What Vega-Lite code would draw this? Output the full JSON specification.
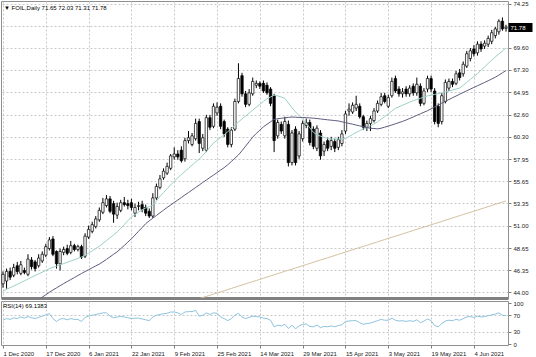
{
"$schema": "https://vega.github.io/schema/vega-lite/v6.json",
"padding": 0,
"background": "white",
"spacing": 0,
"config": {
 "axis": {"labelFont": "Liberation Sans", "labelFontSize": 6, "labelColor": "#202020", "tickColor": "#808080", "gridColor": "#c8c8c8", "gridDash": [2, 2], "domain": false},
 "title": {"font": "Liberation Sans", "fontSize": 6, "fontWeight": "normal", "color": "#000000"}
},
"datasets": {"p": [
{"d":"2020-12-01","o":44.9,"h":46.2,"l":44.5,"c":45.9,"a":44.15,"r":58},
{"d":"2020-12-02","o":45.2,"h":46.5,"l":44.4,"c":46.2,"a":44.33,"r":62},
{"d":"2020-12-03","o":46.2,"h":46.6,"l":45.3,"c":45.6,"a":44.5,"r":60},
{"d":"2020-12-04","o":45.8,"h":47.0,"l":45.6,"c":46.6,"a":44.67,"r":64},
{"d":"2020-12-07","o":46.8,"h":47.2,"l":45.9,"c":46.2,"a":44.84,"r":62},
{"d":"2020-12-08","o":46.0,"h":47.3,"l":45.8,"c":46.9,"a":45.03,"r":66},
{"d":"2020-12-09","o":46.3,"h":46.6,"l":45.9,"c":46.1,"a":45.22,"r":63},
{"d":"2020-12-10","o":45.9,"h":48.0,"l":45.7,"c":47.5,"a":45.4,"r":67},
{"d":"2020-12-11","o":47.4,"h":47.7,"l":46.4,"c":46.7,"a":45.59,"r":64},
{"d":"2020-12-14","o":47.2,"h":47.4,"l":46.2,"c":46.5,"a":45.77,"r":62},
{"d":"2020-12-15","o":46.8,"h":48.0,"l":46.6,"c":47.6,"a":45.95,"b":43.25,"r":65},
{"d":"2020-12-16","o":47.3,"h":48.3,"l":47.1,"c":48.0,"a":46.12,"b":43.51,"r":68},
{"d":"2020-12-17","o":47.9,"h":49.1,"l":47.7,"c":48.8,"a":46.3,"b":43.76,"r":71},
{"d":"2020-12-18","o":48.6,"h":49.8,"l":48.4,"c":49.5,"a":46.48,"b":44.02,"r":74},
{"d":"2020-12-21","o":49.6,"h":49.9,"l":47.8,"c":48.0,"a":46.63,"b":44.26,"r":62},
{"d":"2020-12-22","o":48.3,"h":48.4,"l":46.5,"c":47.0,"a":46.76,"b":44.48,"r":55},
{"d":"2020-12-23","o":47.0,"h":48.6,"l":46.3,"c":48.3,"a":46.9,"b":44.71,"r":61},
{"d":"2020-12-24","o":48.2,"h":48.8,"l":47.9,"c":48.5,"a":47.02,"b":44.93,"r":62},
{"d":"2020-12-28","o":48.6,"h":49.0,"l":47.9,"c":48.1,"a":47.16,"b":45.14,"r":59},
{"d":"2020-12-29","o":48.2,"h":49.4,"l":48.0,"c":48.9,"a":47.29,"b":45.35,"r":62},
{"d":"2020-12-30","o":48.9,"h":49.1,"l":48.3,"c":48.5,"a":47.43,"b":45.56,"r":60},
{"d":"2020-12-31","o":48.5,"h":49.0,"l":48.3,"c":48.8,"a":47.57,"b":45.78,"r":60},
{"d":"2021-01-04","o":48.8,"h":49.0,"l":47.5,"c":47.7,"a":47.71,"b":45.98,"r":55},
{"d":"2021-01-05","o":47.8,"h":50.2,"l":47.6,"c":49.9,"a":47.88,"b":46.19,"r":65},
{"d":"2021-01-06","o":49.8,"h":51.0,"l":49.6,"c":50.6,"a":48.12,"b":46.38,"r":68},
{"d":"2021-01-07","o":50.4,"h":51.4,"l":50.2,"c":51.1,"a":48.36,"b":46.58,"r":70},
{"d":"2021-01-08","o":50.9,"h":52.0,"l":50.7,"c":51.7,"a":48.6,"b":46.78,"r":72},
{"d":"2021-01-11","o":51.6,"h":52.9,"l":51.4,"c":52.6,"a":48.84,"b":46.97,"r":74},
{"d":"2021-01-12","o":52.4,"h":53.9,"l":52.2,"c":53.4,"a":49.12,"b":47.21,"r":76},
{"d":"2021-01-13","o":53.1,"h":54.2,"l":52.9,"c":53.8,"a":49.42,"b":47.46,"r":76},
{"d":"2021-01-14","o":53.8,"h":54.1,"l":52.3,"c":52.5,"a":49.73,"b":47.73,"r":68},
{"d":"2021-01-15","o":53.3,"h":53.6,"l":51.3,"c":52.2,"a":50.03,"b":48.0,"r":64},
{"d":"2021-01-18","o":52.1,"h":53.4,"l":51.7,"c":53.0,"a":50.34,"b":48.26,"r":66},
{"d":"2021-01-19","o":52.6,"h":53.7,"l":52.4,"c":53.4,"a":50.71,"b":48.58,"r":67},
{"d":"2021-01-20","o":53.4,"h":54.0,"l":53.0,"c":53.2,"a":51.11,"b":48.92,"r":66},
{"d":"2021-01-21","o":53.3,"h":53.7,"l":52.7,"c":53.1,"a":51.52,"b":49.27,"r":64},
{"d":"2021-01-22","o":53.4,"h":53.8,"l":52.6,"c":52.9,"a":51.91,"b":49.62,"r":62},
{"d":"2021-01-25","o":52.3,"h":53.3,"l":51.9,"c":52.9,"a":52.16,"b":50.01,"r":63},
{"d":"2021-01-26","o":53.0,"h":53.5,"l":52.6,"c":53.1,"a":52.41,"b":50.41,"r":63},
{"d":"2021-01-27","o":53.2,"h":53.6,"l":52.4,"c":52.7,"a":52.66,"b":50.8,"r":61},
{"d":"2021-01-28","o":52.9,"h":53.2,"l":52.0,"c":52.3,"a":52.84,"b":51.2,"r":59},
{"d":"2021-01-29","o":52.5,"h":52.8,"l":51.8,"c":52.0,"a":52.99,"b":51.51,"r":57},
{"d":"2021-02-01","o":52.0,"h":54.4,"l":51.8,"c":53.9,"a":53.14,"b":51.78,"r":66},
{"d":"2021-02-02","o":53.9,"h":55.4,"l":53.7,"c":55.1,"a":53.59,"b":52.06,"r":70},
{"d":"2021-02-03","o":55.0,"h":56.3,"l":54.8,"c":55.9,"a":54.06,"b":52.34,"r":72},
{"d":"2021-02-04","o":56.0,"h":57.0,"l":55.8,"c":56.7,"a":54.46,"b":52.62,"r":74},
{"d":"2021-02-05","o":56.5,"h":57.6,"l":56.3,"c":57.2,"a":54.86,"b":52.9,"r":75},
{"d":"2021-02-08","o":57.0,"h":58.5,"l":56.8,"c":58.3,"a":55.25,"b":53.16,"r":78},
{"d":"2021-02-09","o":58.2,"h":59.2,"l":57.9,"c":58.5,"a":55.65,"b":53.42,"r":78},
{"d":"2021-02-10","o":58.5,"h":58.9,"l":57.9,"c":58.2,"a":56.01,"b":53.68,"r":76},
{"d":"2021-02-11","o":58.9,"h":59.3,"l":57.6,"c":57.8,"a":56.34,"b":53.94,"r":72},
{"d":"2021-02-12","o":58.0,"h":60.2,"l":57.7,"c":59.9,"a":56.67,"b":54.21,"r":78},
{"d":"2021-02-15","o":59.9,"h":60.9,"l":59.6,"c":60.2,"a":57.0,"b":54.46,"r":79},
{"d":"2021-02-16","o":59.5,"h":60.7,"l":59.3,"c":60.4,"a":57.33,"b":54.73,"r":79},
{"d":"2021-02-17","o":60.1,"h":62.2,"l":59.9,"c":61.7,"a":57.66,"b":54.99,"r":82},
{"d":"2021-02-18","o":61.9,"h":62.2,"l":58.6,"c":59.6,"a":57.98,"b":55.25,"t":43.35,"r":68},
{"d":"2021-02-19","o":59.1,"h":60.6,"l":58.8,"c":60.2,"a":58.33,"b":55.52,"t":43.47,"r":70},
{"d":"2021-02-22","o":58.9,"h":62.6,"l":58.7,"c":62.3,"a":58.76,"b":55.77,"t":43.59,"r":76},
{"d":"2021-02-23","o":62.3,"h":62.6,"l":61.0,"c":61.3,"a":59.21,"b":56.04,"t":43.71,"r":72},
{"d":"2021-02-24","o":61.4,"h":63.8,"l":61.2,"c":63.5,"a":59.65,"b":56.29,"t":43.83,"r":76},
{"d":"2021-02-25","o":62.8,"h":63.9,"l":62.5,"c":63.4,"a":59.94,"b":56.55,"t":43.95,"r":75},
{"d":"2021-02-26","o":63.5,"h":63.8,"l":61.1,"c":61.4,"a":60.23,"b":56.82,"t":44.06,"r":66},
{"d":"2021-03-01","o":61.9,"h":62.1,"l":60.3,"c":60.6,"a":60.51,"b":57.07,"t":44.18,"r":62},
{"d":"2021-03-02","o":61.1,"h":61.3,"l":59.2,"c":59.5,"a":60.83,"b":57.37,"t":44.3,"r":57},
{"d":"2021-03-03","o":59.5,"h":61.3,"l":59.2,"c":61.0,"a":61.16,"b":57.71,"t":44.42,"r":62},
{"d":"2021-03-04","o":61.1,"h":64.3,"l":60.9,"c":64.0,"a":61.51,"b":58.06,"t":44.54,"r":70},
{"d":"2021-03-05","o":64.0,"h":68.0,"l":63.8,"c":66.4,"a":61.85,"b":58.4,"t":44.66,"r":75},
{"d":"2021-03-08","o":66.7,"h":67.0,"l":64.5,"c":64.8,"a":62.17,"b":58.84,"t":44.78,"r":66},
{"d":"2021-03-09","o":64.8,"h":65.1,"l":63.4,"c":63.7,"a":62.48,"b":59.32,"t":44.9,"r":62},
{"d":"2021-03-10","o":63.7,"h":65.3,"l":63.5,"c":64.9,"a":62.78,"b":59.79,"t":45.02,"r":65},
{"d":"2021-03-11","o":64.8,"h":66.5,"l":64.6,"c":66.1,"a":63.09,"b":60.27,"t":45.14,"r":68},
{"d":"2021-03-12","o":65.7,"h":66.2,"l":65.4,"c":65.9,"a":63.4,"b":60.65,"t":45.25,"r":67},
{"d":"2021-03-14","o":65.9,"h":66.1,"l":65.3,"c":65.6,"a":63.7,"b":61.0,"t":45.37,"r":66},
{"d":"2021-03-15","o":65.9,"h":66.2,"l":64.9,"c":65.1,"a":64.0,"b":61.34,"t":45.49,"r":63},
{"d":"2021-03-16","o":65.7,"h":66.0,"l":64.7,"c":64.9,"a":64.28,"b":61.61,"t":45.61,"r":62},
{"d":"2021-03-17","o":65.3,"h":65.5,"l":63.5,"c":63.8,"a":64.47,"b":61.87,"t":45.73,"r":58},
{"d":"2021-03-18","o":64.6,"h":64.8,"l":58.7,"c":59.9,"a":64.66,"b":62.13,"t":45.85,"r":42},
{"d":"2021-03-19","o":60.4,"h":62.1,"l":60.1,"c":61.8,"a":64.58,"b":62.2,"t":45.97,"r":46},
{"d":"2021-03-21","o":61.6,"h":61.9,"l":60.6,"c":60.9,"a":64.47,"b":62.24,"t":46.09,"r":44},
{"d":"2021-03-22","o":60.4,"h":62.4,"l":60.1,"c":61.9,"a":64.33,"b":62.29,"t":46.21,"r":48},
{"d":"2021-03-23","o":61.6,"h":62.0,"l":57.2,"c":57.6,"a":63.84,"b":62.33,"t":46.33,"r":38},
{"d":"2021-03-24","o":57.6,"h":61.0,"l":57.3,"c":60.7,"a":63.35,"b":62.37,"t":46.44,"r":46},
{"d":"2021-03-25","o":61.1,"h":61.4,"l":57.3,"c":57.6,"a":62.91,"b":62.35,"t":46.56,"r":37},
{"d":"2021-03-26","o":58.3,"h":60.9,"l":58.0,"c":60.6,"a":62.53,"b":62.33,"t":46.68,"r":44},
{"d":"2021-03-29","o":60.1,"h":62.0,"l":59.8,"c":61.7,"a":62.16,"b":62.32,"t":46.8,"r":48},
{"d":"2021-03-30","o":61.5,"h":62.2,"l":61.2,"c":61.8,"a":61.73,"b":62.3,"t":46.92,"r":49},
{"d":"2021-03-31","o":61.8,"h":62.1,"l":59.4,"c":59.7,"a":61.24,"b":62.28,"t":47.04,"r":43},
{"d":"2021-04-01","o":61.1,"h":61.4,"l":59.0,"c":59.3,"a":60.77,"b":62.25,"t":47.16,"r":42},
{"d":"2021-04-05","o":59.1,"h":61.5,"l":58.8,"c":61.2,"a":60.5,"b":62.21,"t":47.28,"r":46},
{"d":"2021-04-06","o":60.7,"h":61.0,"l":57.9,"c":58.3,"a":60.37,"b":62.17,"t":47.4,"r":40},
{"d":"2021-04-07","o":58.8,"h":59.8,"l":58.3,"c":59.5,"a":60.24,"b":62.12,"t":47.52,"r":43},
{"d":"2021-04-08","o":59.9,"h":60.2,"l":58.8,"c":59.1,"a":60.11,"b":62.08,"t":47.63,"r":42},
{"d":"2021-04-09","o":59.3,"h":60.3,"l":58.9,"c":59.9,"a":60.07,"b":62.04,"t":47.75,"r":44},
{"d":"2021-04-12","o":59.8,"h":60.1,"l":58.7,"c":59.1,"a":60.07,"b":62.0,"t":47.87,"r":42},
{"d":"2021-04-13","o":59.2,"h":60.3,"l":58.9,"c":60.0,"a":60.07,"b":61.96,"t":47.99,"r":45},
{"d":"2021-04-14","o":59.6,"h":61.0,"l":59.3,"c":60.6,"a":60.07,"b":61.87,"t":48.11,"r":47},
{"d":"2021-04-15","o":60.9,"h":63.0,"l":60.6,"c":62.7,"a":60.12,"b":61.79,"t":48.23,"r":55},
{"d":"2021-04-16","o":63.0,"h":63.8,"l":62.5,"c":63.2,"a":60.33,"b":61.7,"t":48.35,"r":56},
{"d":"2021-04-19","o":62.9,"h":63.9,"l":62.7,"c":63.6,"a":60.54,"b":61.62,"t":48.47,"r":57},
{"d":"2021-04-20","o":63.3,"h":64.6,"l":63.0,"c":63.7,"a":60.75,"b":61.53,"t":48.59,"r":57},
{"d":"2021-04-21","o":63.5,"h":63.8,"l":62.2,"c":62.4,"a":60.95,"b":61.44,"t":48.71,"r":52},
{"d":"2021-04-22","o":62.4,"h":62.6,"l":61.0,"c":61.3,"a":61.1,"b":61.35,"t":48.82,"r":48},
{"d":"2021-04-23","o":61.3,"h":62.0,"l":60.9,"c":61.7,"a":61.25,"b":61.27,"t":48.94,"r":50},
{"d":"2021-04-26","o":61.7,"h":62.5,"l":60.9,"c":62.2,"a":61.44,"b":61.2,"t":49.06,"r":51},
{"d":"2021-04-27","o":62.0,"h":63.3,"l":61.8,"c":63.0,"a":61.65,"b":61.17,"t":49.18,"r":54},
{"d":"2021-04-28","o":63.0,"h":64.1,"l":62.8,"c":63.8,"a":61.87,"b":61.13,"t":49.3,"r":57},
{"d":"2021-04-29","o":63.7,"h":64.9,"l":63.5,"c":64.5,"a":62.15,"b":61.2,"t":49.42,"r":60},
{"d":"2021-04-30","o":64.6,"h":64.9,"l":63.8,"c":64.0,"a":62.41,"b":61.31,"t":49.54,"r":58},
{"d":"2021-05-03","o":63.5,"h":64.7,"l":63.3,"c":64.4,"a":62.71,"b":61.42,"t":49.66,"r":58},
{"d":"2021-05-04","o":64.6,"h":66.5,"l":64.4,"c":66.1,"a":63.0,"b":61.54,"t":49.78,"r":63},
{"d":"2021-05-05","o":66.4,"h":66.7,"l":64.9,"c":65.1,"a":63.28,"b":61.66,"t":49.9,"r":58},
{"d":"2021-05-06","o":65.3,"h":65.6,"l":64.5,"c":64.8,"a":63.44,"b":61.79,"t":50.01,"r":56},
{"d":"2021-05-07","o":64.8,"h":65.4,"l":64.4,"c":65.0,"a":63.61,"b":61.91,"t":50.13,"r":57},
{"d":"2021-05-10","o":65.3,"h":65.6,"l":64.5,"c":64.8,"a":63.77,"b":62.06,"t":50.25,"r":55},
{"d":"2021-05-11","o":64.8,"h":65.7,"l":64.5,"c":65.4,"a":63.93,"b":62.22,"t":50.37,"r":57},
{"d":"2021-05-12","o":65.6,"h":65.9,"l":64.6,"c":64.9,"a":64.07,"b":62.38,"t":50.49,"r":55},
{"d":"2021-05-13","o":64.9,"h":66.5,"l":64.6,"c":65.8,"a":64.2,"b":62.55,"t":50.61,"r":59},
{"d":"2021-05-14","o":65.6,"h":65.9,"l":63.5,"c":63.8,"a":64.33,"b":62.71,"t":50.73,"r":52},
{"d":"2021-05-17","o":63.8,"h":65.4,"l":63.6,"c":65.1,"a":64.46,"b":62.87,"t":50.85,"r":56},
{"d":"2021-05-18","o":65.3,"h":66.7,"l":65.0,"c":66.4,"a":64.58,"b":63.03,"t":50.97,"r":61},
{"d":"2021-05-19","o":66.4,"h":66.7,"l":65.0,"c":65.3,"a":64.66,"b":63.23,"t":51.09,"r":57},
{"d":"2021-05-20","o":65.1,"h":65.4,"l":61.6,"c":61.9,"a":64.74,"b":63.43,"t":51.2,"r":45},
{"d":"2021-05-21","o":63.5,"h":63.8,"l":61.3,"c":61.7,"a":64.81,"b":63.62,"t":51.32,"r":42},
{"d":"2021-05-24","o":61.9,"h":64.9,"l":61.6,"c":64.6,"a":64.89,"b":63.82,"t":51.44,"r":50},
{"d":"2021-05-25","o":64.0,"h":66.3,"l":63.8,"c":66.0,"a":64.99,"b":64.01,"t":51.56,"r":56},
{"d":"2021-05-26","o":65.4,"h":66.4,"l":65.1,"c":66.1,"a":65.09,"b":64.2,"t":51.68,"r":58},
{"d":"2021-05-27","o":66.1,"h":66.4,"l":65.5,"c":65.8,"a":65.2,"b":64.39,"t":51.8,"r":57},
{"d":"2021-05-28","o":65.9,"h":67.2,"l":65.7,"c":66.9,"a":65.3,"b":64.57,"t":51.92,"r":60},
{"d":"2021-05-31","o":67.0,"h":67.4,"l":66.2,"c":66.5,"a":65.4,"b":64.76,"t":52.04,"r":58},
{"d":"2021-06-01","o":66.9,"h":68.2,"l":66.6,"c":67.9,"a":65.69,"b":64.94,"t":52.16,"r":62},
{"d":"2021-06-02","o":67.7,"h":69.3,"l":67.5,"c":69.0,"a":66.0,"b":65.12,"t":52.28,"r":66},
{"d":"2021-06-03","o":68.5,"h":69.6,"l":68.2,"c":69.3,"a":66.31,"b":65.3,"t":52.39,"r":67},
{"d":"2021-06-04","o":69.5,"h":69.9,"l":68.7,"c":69.0,"a":66.61,"b":65.47,"t":52.51,"r":65},
{"d":"2021-06-07","o":69.1,"h":70.3,"l":68.8,"c":70.0,"a":66.93,"b":65.64,"t":52.63,"r":68},
{"d":"2021-06-08","o":70.0,"h":70.3,"l":69.2,"c":69.5,"a":67.27,"b":65.82,"t":52.75,"r":66},
{"d":"2021-06-09","o":69.8,"h":70.4,"l":69.5,"c":70.1,"a":67.62,"b":65.99,"t":52.87,"r":67},
{"d":"2021-06-10","o":70.0,"h":70.9,"l":69.7,"c":70.6,"a":67.98,"b":66.17,"t":52.99,"r":69},
{"d":"2021-06-11","o":70.3,"h":71.5,"l":70.0,"c":71.2,"a":68.32,"b":66.35,"t":53.11,"r":71},
{"d":"2021-06-14","o":70.9,"h":71.8,"l":70.6,"c":71.6,"a":68.67,"b":66.54,"t":53.23,"r":73},
{"d":"2021-06-15","o":71.3,"h":72.6,"l":71.0,"c":72.4,"a":68.97,"b":66.76,"t":53.35,"r":76},
{"d":"2021-06-16","o":72.4,"h":72.8,"l":71.4,"c":71.6,"a":69.29,"b":67.0,"t":53.47,"r":70},
{"d":"2021-06-17","o":71.65,"h":72.03,"l":71.31,"c":71.78,"a":69.61,"b":67.23,"t":53.58,"r":69.1383}
]},
"vconcat": [
 {
  "width": 507, "height": 297,
  "view": {"stroke": "#909090", "strokeWidth": 1},
  "title": {"text": "▼ FOIL,Daily  71.65 72.03 71.31 71.78", "anchor": "start", "frame": "group", "offset": -10, "dx": 3},
  "data": {"name": "p"},
  "encoding": {
   "x": {"field": "d", "type": "ordinal", "scale": {"type": "point", "padding": 0.56},
     "axis": {"values": ["2020-12-01","2020-12-17","2021-01-06","2021-01-22","2021-02-09","2021-02-25","2021-03-14","2021-03-29","2021-04-15","2021-05-03","2021-05-19","2021-06-04"], "labels": false, "ticks": false, "grid": true, "title": null, "domain": true, "domainColor": "#808080", "domainWidth": 3}}
  },
  "layer": [
   {"mark": {"type": "rule", "color": "#000000", "strokeWidth": 1},
    "encoding": {
     "y": {"field": "l", "type": "quantitative", "scale": {"domain": [43.42, 74.52], "nice": false, "zero": false},
       "axis": {"orient": "right", "values": [44, 46.35, 48.65, 51, 53.35, 55.65, 57.95, 60.3, 62.6, 64.95, 67.3, 69.6, 71.93, 74.25], "labelExpr": "datum.value == 71.93 ? '' : format(datum.value, '.2f')", "title": null, "grid": true, "tickSize": 3, "labelPadding": 2, "labelBaseline": "middle"}},
     "y2": {"field": "h"}}},
   {"mark": {"type": "bar", "size": 2.4, "stroke": "#000000", "strokeWidth": 0.7},
    "encoding": {
     "y": {"field": "o", "type": "quantitative", "axis": null},
     "y2": {"field": "c"},
     "fill": {"condition": {"test": "datum.c >= datum.o", "value": "#ffffff"}, "value": "#000000"}}},
   {"mark": {"type": "line", "color": "#9ccfc7", "strokeWidth": 1, "clip": true},
    "encoding": {"y": {"field": "a", "type": "quantitative", "axis": null}}},
   {"mark": {"type": "line", "color": "#5c5c80", "strokeWidth": 1, "clip": true},
    "encoding": {"y": {"field": "b", "type": "quantitative", "axis": null}}},
   {"mark": {"type": "line", "color": "#d4c09e", "strokeWidth": 1, "clip": true},
    "encoding": {"y": {"field": "t", "type": "quantitative",
      "axis": {"orient": "right", "values": [71.78], "labelExpr": "format(datum.value, '.2f')", "title": null, "grid": false, "tickSize": 24, "tickWidth": 9, "tickColor": "#000000", "labelColor": "#ffffff", "labelPadding": -22, "labelBaseline": "middle"}}}}
  ],
  "resolve": {"axis": {"y": "independent"}}
 },
 {
  "width": 507, "height": 44,
  "view": {"stroke": "#909090", "strokeWidth": 1},
  "title": {"text": "RSI(14) 69.1383", "anchor": "start", "frame": "group", "offset": -9, "dx": 2},
  "data": {"name": "p"},
  "mark": {"type": "line", "color": "#8ec3dd", "strokeWidth": 1},
  "encoding": {
   "x": {"field": "d", "type": "ordinal", "scale": {"type": "point", "padding": 0.56},
     "axis": {"values": ["2020-12-01","2020-12-17","2021-01-06","2021-01-22","2021-02-09","2021-02-25","2021-03-14","2021-03-29","2021-04-15","2021-05-03","2021-05-19","2021-06-04"], "labelExpr": "utcFormat(toDate(datum.value), '%-d %b %Y')", "labelAngle": 0, "labelAlign": "left", "labelBaseline": "top", "tickSize": 3, "labelPadding": 2, "grid": true, "title": null, "labelOverlap": false}},
   "y": {"field": "r", "type": "quantitative", "scale": {"domain": [-2.4, 104.9], "nice": false, "zero": false},
     "axis": {"orient": "right", "values": [0, 30, 70, 100], "title": null, "tickSize": 3, "labelPadding": 2, "labelBaseline": "middle", "grid": true, "gridOpacity": {"condition": {"test": "datum.value == 30 || datum.value == 70", "value": 1}, "value": 0}}}
  }
 }
]
}
